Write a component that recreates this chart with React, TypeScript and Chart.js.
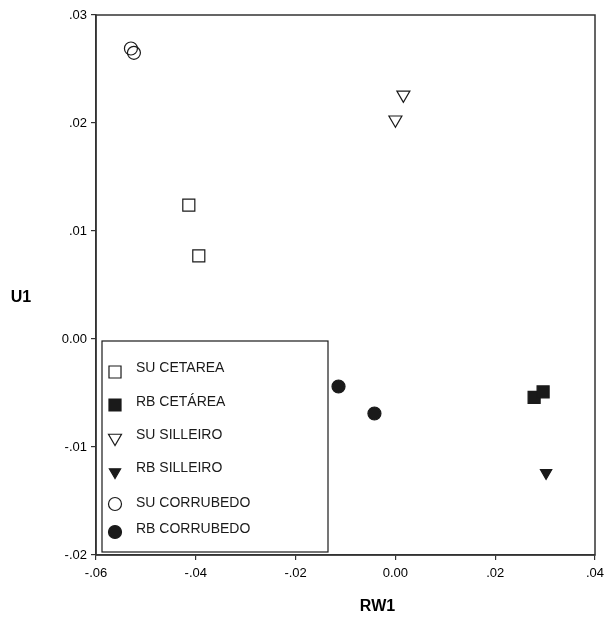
import React, { useEffect, useRef } from "react";
import { Chart, registerables } from "chart.js";

Chart.register(...registerables);

const suCetareaX = [-0.0414, -0.0394];
const suCetareaY = [0.0124, 0.0077];
const rbCetareaX = [0.0278, 0.0296];
const rbCetareaY = [-0.0054, -0.0049];
const suSilleiroX = [0.0016, 0.0];
const suSilleiroY = [0.0226, 0.0203];
const rbSilleiroX = [0.0302];
const rbSilleiroY = [-0.0124];
const suCorrubedoX = [-0.053, -0.0524];
const suCorrubedoY = [0.0269, 0.0265];
const rbCorrubedoX = [-0.0114, -0.0042];
const rbCorrubedoY = [-0.0044, -0.0069];

const xTickValues = [-0.06, -0.04, -0.02, 0.0, 0.02, 0.04];
const xTickLabels = ["-.06", "-.04", "-.02", "0.00", ".02", ".04"];
const yTickValues = [-0.02, -0.01, 0.0, 0.01, 0.02, 0.03];
const yTickLabels = ["-.02", "-.01", "0.00", ".01", ".02", ".03"];

const seriesNames = ["SU CETAREA", "RB CETÁREA", "SU SILLEIRO", "RB SILLEIRO", "SU CORRUBEDO", "RB CORRUBEDO"];

const xTitle = "RW1";
const yTitle = "U1";

const INK = "#1a1a1a";
const FONT = "'Liberation Sans', Arial, sans-serif";

const zip = (xs: number[], ys: number[]) => xs.map((x, i) => ({ x, y: ys[i] }));

type Marker = { style: string; filled: boolean; radius: number; rotation: number };
const markers: Marker[] = [
  { style: "rect", filled: false, radius: 8.5, rotation: 0 },
  { style: "rect", filled: true, radius: 8.5, rotation: 0 },
  { style: "triangle", filled: false, radius: 7.5, rotation: 180 },
  { style: "triangle", filled: true, radius: 6.5, rotation: 180 },
  { style: "circle", filled: false, radius: 6.5, rotation: 0 },
  { style: "circle", filled: true, radius: 6.5, rotation: 0 },
];

function drawMarker(ctx: CanvasRenderingContext2D, m: Marker, x: number, y: number) {
  ctx.save();
  ctx.beginPath();
  const r = m.radius;
  if (m.style === "rect") {
    const s = Math.SQRT1_2 * r;
    ctx.rect(x - s, y - s, 2 * s, 2 * s);
  } else if (m.style === "triangle") {
    // inverted triangle
    const a = (m.rotation * Math.PI) / 180;
    for (let k = 0; k < 3; k++) {
      const ang = a - Math.PI / 2 + (k * 2 * Math.PI) / 3;
      const px = x + Math.cos(ang) * r;
      const py = y + Math.sin(ang) * r;
      if (k === 0) ctx.moveTo(px, py);
      else ctx.lineTo(px, py);
    }
    ctx.closePath();
  } else {
    ctx.arc(x, y, r, 0, Math.PI * 2);
  }
  ctx.lineWidth = 1.2;
  ctx.strokeStyle = INK;
  ctx.fillStyle = m.filled ? INK : "#ffffff";
  ctx.fill();
  ctx.stroke();
  ctx.restore();
}

const framePlugin = {
  id: "frameAndLegend",
  beforeDatasetsDraw(chart: any) {
    const { ctx, chartArea } = chart;
    ctx.save();
    ctx.strokeStyle = "#333";
    ctx.lineWidth = 1.5;
    ctx.strokeRect(chartArea.left, chartArea.top, chartArea.right - chartArea.left, chartArea.bottom - chartArea.top);
    ctx.restore();
  },
  afterDatasetsDraw(chart: any) {
    const { ctx, chartArea } = chart;
    // legend box inside plot
    const bx = chartArea.left + 6;
    const by = chartArea.top + 326;
    const bw = 226;
    const bh = 211;
    ctx.save();
    ctx.fillStyle = "#fff";
    ctx.fillRect(bx, by, bw, bh);
    ctx.strokeStyle = INK;
    ctx.lineWidth = 1.2;
    ctx.strokeRect(bx, by, bw, bh);
    const rowY = [27, 61, 94, 127, 162, 188];
    const markY = [31, 64, 97, 131, 163, 191];
    ctx.font = `14px ${FONT}`;
    ctx.textBaseline = "middle";
    ctx.textAlign = "left";
    chart.data.datasets.forEach((ds: any, i: number) => {
      drawMarker(ctx, markers[i], bx + 13, by + markY[i]);
      ctx.fillStyle = INK;
      ctx.fillText(ds.label, bx + 34, by + rowY[i]);
    });
    // axis titles
    ctx.font = `bold 16px ${FONT}`;
    ctx.textAlign = "center";
    ctx.fillStyle = "#000";
    ctx.fillText(yTitle, 21, chartArea.top + 283);
    ctx.fillText(xTitle, (chartArea.left + chartArea.right) / 2 + 32, 607);
    ctx.restore();
  },
};

export default function App() {
  const canvasRef = useRef<HTMLCanvasElement | null>(null);

  useEffect(() => {
    if (!canvasRef.current) return;
    const seriesX = [suCetareaX, rbCetareaX, suSilleiroX, rbSilleiroX, suCorrubedoX, rbCorrubedoX];
    const seriesY = [suCetareaY, rbCetareaY, suSilleiroY, rbSilleiroY, suCorrubedoY, rbCorrubedoY];
    const datasets = seriesNames.map((name, i) => ({
      label: name,
      data: zip(seriesX[i], seriesY[i]),
      pointStyle: markers[i].style,
      pointRadius: markers[i].radius,
      pointRotation: markers[i].rotation,
      pointBackgroundColor: markers[i].filled ? INK : "rgba(255,255,255,0)",
      pointBorderColor: INK,
      pointBorderWidth: 1.2,
      showLine: false,
    }));

    const chart = new Chart(canvasRef.current, {
      type: "scatter",
      data: { datasets },
      options: {
        animation: false,
        responsive: false,
        maintainAspectRatio: false,
        layout: { padding: { top: 15, right: 16, left: 0, bottom: 0 } },
        plugins: { legend: { display: false }, tooltip: { enabled: false } },
        scales: {
          x: {
            type: "linear",
            min: -0.06,
            max: 0.04,
            afterFit: (s: any) => {
              s.height = 62;
            },
            afterBuildTicks: (s: any) => {
              s.ticks = xTickValues.map((v) => ({ value: v }));
            },
            ticks: {
              color: "#000",
              font: { family: FONT, size: 13 },
              padding: 6,
              maxRotation: 0,
              autoSkip: false,
              callback: (_v: any, i: number) => xTickLabels[i],
            },
            grid: { drawOnChartArea: false, drawTicks: true, tickLength: 5, color: "#333", lineWidth: 1.2 },
            border: { display: true, color: "#333", width: 1.5 },
          },
          y: {
            type: "linear",
            min: -0.02,
            max: 0.03,
            afterFit: (s: any) => {
              s.width = 96;
            },
            afterBuildTicks: (s: any) => {
              s.ticks = yTickValues.map((v) => ({ value: v }));
            },
            ticks: {
              color: "#000",
              font: { family: FONT, size: 13 },
              padding: 4,
              autoSkip: false,
              callback: (_v: any, i: number) => yTickLabels[i],
            },
            grid: { drawOnChartArea: false, drawTicks: true, tickLength: 5, color: "#333", lineWidth: 1.2 },
            border: { display: true, color: "#333", width: 1.5 },
          },
        },
      },
      plugins: [framePlugin],
    } as any);
    return () => chart.destroy();
  }, []);

  return (
    <div style={{ position: "fixed", left: 0, top: 0, width: 611, height: 617, background: "#fff" }}>
      <canvas ref={canvasRef} width={611} height={617} style={{ width: 611, height: 617, display: "block" }} />
    </div>
  );
}
